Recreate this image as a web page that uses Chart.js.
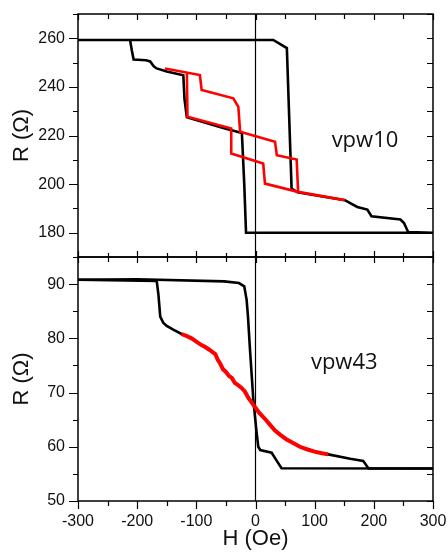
<!DOCTYPE html>
<html lang="en">
<head>
<meta charset="UTF-8">
<title>R vs H (vpw10 / vpw43)</title>
<style>
  body { margin: 0; background: #fff; }
  #wrap { position: relative; width: 448px; height: 556px; }
  canvas { position: absolute; left: 0; }
  #topChart { top: 0; }
  #botChart { top: 250px; }
</style>
<script src="https://cdn.jsdelivr.net/npm/chart.js@4.4.1/dist/chart.umd.min.js"></script>
</head>
<body>
<div id="wrap">
  <canvas id="topChart" width="448" height="262"></canvas>
  <canvas id="botChart" width="448" height="306"></canvas>
</div>
<script>
// ---- vpw10 (top panel) ----
const topBlackH = [-300, 30, 53, 61, 71, 151, 172, 189, 196, 245, 251, 258, 300,
                   300, -16, -19, -23, -53, -116, -120, -122, -150, -167, -172, -178, -185, -206, -209, -212, -300];
const topBlackR = [259.3, 259.3, 256, 198.2, 196.6, 193.4, 190.6, 189.5, 186.8, 185.4, 184, 180.3, 180,
                   180, 180, 200, 221, 223, 227.5, 235, 244.8, 246.3, 247.6, 248.5, 250.5, 251, 251.3, 255, 259.3, 259.3];
const topRedH = [-153, -94, -91, -37.5, -29, -26, 33, 36, 69.6, 72, 151,
                 72, 16, 13, -41, -41, -115, -116];
const topRedR = [247.6, 244.9, 238.7, 235.3, 231.8, 221.5, 217.4, 211.9, 210.1, 196.8, 193.4,
                 196.8, 200.2, 208.5, 212.6, 222.9, 227.7, 245.6];

// ---- vpw43 (bottom panel) ----
const botBlackH = [-300, -200, -53, -28, -19, -15, -12.7, -9.3, -3.7, 1.5, 4.7, 8, 27.3, 33, 44, 300];
const botBlackR = [90.8, 90.9, 90.5, 90.2, 89.6, 87.1, 84, 77.9, 68.7, 63, 60, 59.4, 58.9, 57.9, 56.05, 56];
const botRedH = [-125, -116, -108, -100, -92, -85, -78, -72, -68, -64, -60, -55, -50, -45, -40, -35, -30, -24,
                 -18, -12, -6, 0, 6, 12, 18, 25, 33, 42, 52, 62, 75, 88, 100, 112, 123];
const botRedR = [80.8, 80.4, 80.0, 79.4, 78.8, 78.4, 77.9, 77.4, 77.1, 76.1, 75.4, 74.3, 73.8, 73.1, 72.7, 71.8, 71.4, 70.9,
                 70.2, 69.0, 68.1, 67.2, 66.3, 65.6, 64.9, 64.0, 63.0, 62.2, 61.4, 60.8, 60.0, 59.5, 59.1, 58.8, 58.6];
// return branch of black loop: right tail, then along the red curve, then left tail
const botRetStartH = [300, 191, 182, 160];
const botRetStartR = [56, 56, 57.4, 57.8];
const botRetEndH = [-139, -150, -156, -161, -164, -167, -300];
const botRetEndR = [81.6, 82.3, 82.9, 84, 88, 90.6, 90.8];

const zeroH = [0, 0];
const topRange = [170, 270];
const botRange = [50, 95];

const pts = (hs, rs) => hs.map((h, i) => ({ x: h, y: rs[i] }));

// box, inward/outward tick marks and panel label
const frame = {
  id: 'frame',
  afterDraw(chart, args, o) {
    const { ctx, chartArea: a, scales: { x, y } } = chart;
    ctx.save();
    ctx.strokeStyle = '#000';
    ctx.lineWidth = 1.5;
    ctx.strokeRect(a.left, a.top, a.right - a.left, a.bottom - a.top);
    ctx.lineWidth = 1.2;
    ctx.beginPath();
    x.ticks.forEach(t => {
      const px = Math.round(x.getPixelForValue(t.value)) + 0.5;
      const major = t.value % 100 === 0;
      ctx.moveTo(px, a.top); ctx.lineTo(px, a.top + (major ? 6 : 5));
      if (o.bottomOut) { ctx.moveTo(px, a.bottom); ctx.lineTo(px, a.bottom + (major ? 8 : 5)); }
      else { ctx.moveTo(px, a.bottom); ctx.lineTo(px, a.bottom - (major ? 6 : 4)); }
    });
    y.ticks.forEach(t => {
      const py = Math.round(y.getPixelForValue(t.value)) + 0.5;
      const major = t.value % o.majorEvery === 0;
      ctx.moveTo(a.left - (major ? 9 : 5), py); ctx.lineTo(a.left, py);
      ctx.moveTo(a.right - 6, py); ctx.lineTo(a.right, py);
    });
    ctx.stroke();
    ctx.fillStyle = '#111';
    ctx.font = '22px "Open Sans"';
    ctx.textAlign = 'center';
    ctx.textBaseline = 'middle';
    ctx.fillText(o.label, x.getPixelForValue(o.labelAt[0]), y.getPixelForValue(o.labelAt[1]));
    ctx.restore();
  }
};

const tickFont = { family: '"Liberation Sans", Arial, sans-serif', size: 16 };
const titleFont = { family: '"Liberation Sans", Arial, sans-serif', size: 22 };

function makeChart(id, datasets, yr, majorEvery, label, labelAt, isBottom) {
  return new Chart(document.getElementById(id), {
    type: 'scatter',
    data: { datasets: datasets },
    plugins: [frame],
    options: {
      responsive: false,
      animation: false,
      layout: { padding: { top: isBottom ? 7 : 14, right: 15, left: 0, bottom: 0 } },
      plugins: {
        legend: { display: false },
        tooltip: { enabled: false },
        frame: { bottomOut: isBottom, majorEvery: majorEvery, label: label, labelAt: labelAt }
      },
      elements: { point: { radius: 0 }, line: { tension: 0 } },
      scales: {
        x: {
          type: 'linear', min: -300, max: 300,
          grid: { display: false, drawTicks: false },
          border: { display: false },
          ticks: {
            display: isBottom, stepSize: 50, autoSkip: false, maxRotation: 0,
            padding: 11, color: '#111', font: tickFont,
            callback: v => (v % 100 === 0 ? v : '')
          },
          title: { display: isBottom, text: 'H (Oe)', color: '#111', font: titleFont, padding: { top: 0, bottom: 4 } },
          afterFit: s => {
            s.height = isBottom ? 55 : 5;
            s.paddingLeft = 0; s.paddingRight = 0;
          }
        },
        y: {
          type: 'linear', min: yr[0], max: yr[1],
          grid: { display: false, drawTicks: false },
          border: { display: false },
          ticks: {
            stepSize: (yr[1] - yr[0]) > 50 ? 10 : 5, autoSkip: false,
            padding: 13, color: '#111', font: tickFont,
            callback: v => (v % majorEvery === 0 ? v : '')
          },
          title: { display: true, text: 'R (Ω)', color: '#111', font: titleFont, padding: { top: 9, bottom: 0 } },
          afterFit: s => {
            s.width = 78;
            s.paddingTop = 0; s.paddingBottom = 0;
          }
        }
      }
    }
  });
}

const line = (data, color, w) => ({
  data: data, showLine: true, borderColor: color, backgroundColor: color,
  borderWidth: w, pointRadius: 0, fill: false
});

makeChart('topChart', [
  line(pts(topRedH, topRedR), '#ff0000', 2.6),
  line(pts(topBlackH, topBlackR), '#000', 2.6),
  line(pts(zeroH, topRange), '#000', 1.2)
], topRange, 20, 'vpw10', [185, 218], false);

const botRetH = botRetStartH.concat(botRedH.slice().reverse(), botRetEndH);
const botRetR = botRetStartR.concat(botRedR.slice().reverse(), botRetEndR);

makeChart('botChart', [
  line(pts(botRedH, botRedR), '#ff0000', 4),
  line(pts(botBlackH, botBlackR), '#000', 2.6),
  line(pts(botRetH, botRetR), '#000', 2.6),
  line(pts(zeroH, botRange), '#000', 1.2)
], botRange, 10, 'vpw43', [150, 75.5], true);
</script>
</body>
</html>
